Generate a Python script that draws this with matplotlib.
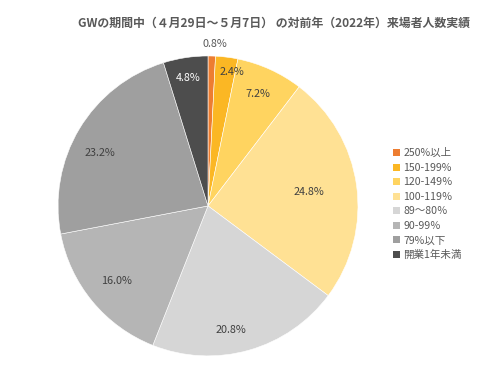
import matplotlib
matplotlib.use("Agg")
import matplotlib.pyplot as plt
from matplotlib.patches import Patch
import numpy as np

plt.rcParams['font.family'] = ['Noto Sans CJK JP', 'DejaVu Sans']

# --- data ---
categories = ["250%以上", "150-199%", "120-149％", "100-119％",
              "89～80％", "90-99％", "79%以下", "開業1年未満"]
shares = [0.8, 2.4, 7.2, 24.8, 20.8, 16.0, 23.2, 4.8]
title = "GWの期間中（４月29日～５月7日） の対前年（2022年）来場者人数実績"

colors = ["#ED7D31", "#FBB724", "#FFD460", "#FFE194",
          "#D6D6D6", "#B5B5B5", "#9F9F9F", "#4D4D4D"]
label_colors = ["#595959", "#404040", "#404040", "#404040",
                "#404040", "#404040", "#404040", "#FFFFFF"]
# label placement tweaks (radius fraction, angle shift in degrees, clockwise)
label_dist = [1.08, 0.91, 0.82, 0.68, 0.84, 0.79, 0.80, 0.86]
label_shift = [1.0, 3.0, -0.5, 0.0, 5.5, 0.0, -5.0, 0.0]

fig = plt.figure(figsize=(5.0, 3.86), dpi=100)
fig.text(0.548, 0.94, title, ha="center", va="center",
         fontsize=8.6, fontweight="bold", color="#595959")

ax = fig.add_axes([0.116, 0.078, 0.6, 0.777])
wedges, _ = ax.pie(shares, colors=colors, startangle=90, counterclock=False,
                   radius=1.0, wedgeprops=dict(linewidth=0.4, edgecolor="white"))

for w, v, d, s, c in zip(wedges, shares, label_dist, label_shift, label_colors):
    mid = np.deg2rad((w.theta1 + w.theta2) / 2 - s)
    ax.text(d * np.cos(mid), d * np.sin(mid), f"{v:.1f}%",
            ha="center", va="center", fontsize=7.8, color=c)

ax.set_xlim(-1, 1)
ax.set_ylim(-1, 1)
ax.set_aspect("equal")
ax.axis("off")

handles = [Patch(facecolor=c, edgecolor="none") for c in colors]
fig.legend(handles, categories, loc="upper left", bbox_to_anchor=(0.775, 0.63),
           frameon=False, fontsize=7.6, labelcolor="#595959",
           handlelength=0.65, handleheight=0.65, handletextpad=0.35,
           labelspacing=0.43, borderpad=0)

fig.savefig("out.png", dpi=100)
